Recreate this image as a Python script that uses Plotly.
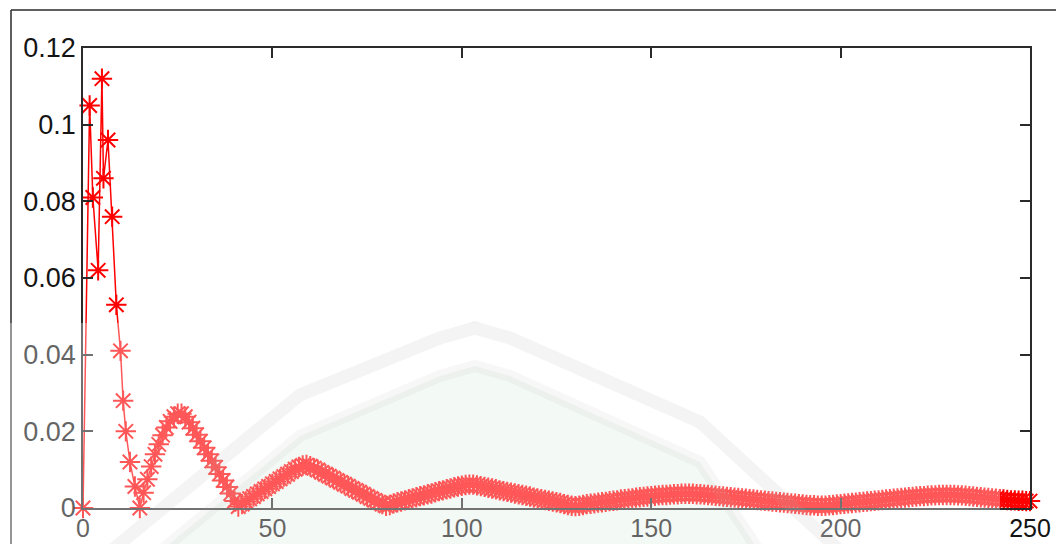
import plotly.graph_objects as go

# Leading samples (irregular spacing at the start of the response)
HEAD_X = [0, 1.75, 2.6, 4.0, 5.0, 5.4, 6.6, 7.7, 8.8, 9.9, 10.6, 11.3, 12.4, 13.7, 15.0]
HEAD_Y = [0.0, 0.105, 0.081, 0.062, 0.112, 0.086, 0.096, 0.076, 0.053, 0.041,
          0.028, 0.020, 0.012, 0.0056, 0.0]

# Remaining samples, one per unit from 16 to 250
TAIL_X = list(range(16, 251))
TAIL_Y = [
    0.0040, 0.0075, 0.0108, 0.0140, 0.0166, 0.0190, 0.0210, 0.0226, 0.0238, 0.0246,
    0.0246, 0.0238, 0.0224, 0.0208, 0.0191, 0.0174, 0.0157, 0.0140, 0.0123, 0.0106,
    0.0089, 0.0072, 0.0055, 0.0038, 0.0018, 0.0004, 0.0010, 0.0017, 0.0024, 0.0030,
    0.0037, 0.0043, 0.0050, 0.0056, 0.0063, 0.0069, 0.0076, 0.0082, 0.0088, 0.0095,
    0.0101, 0.0107, 0.0111, 0.0112, 0.0109, 0.0104, 0.0099, 0.0093, 0.0088, 0.0083,
    0.0078, 0.0072, 0.0067, 0.0062, 0.0057, 0.0051, 0.0046, 0.0041, 0.0036, 0.0030,
    0.0025, 0.0020, 0.0015, 0.0010, 0.0006, 0.0008, 0.0012, 0.0015, 0.0017, 0.0020,
    0.0023, 0.0025, 0.0028, 0.0031, 0.0033, 0.0036, 0.0038, 0.0041, 0.0044, 0.0046,
    0.0049, 0.0051, 0.0054, 0.0056, 0.0058, 0.0060, 0.0061, 0.0061, 0.0059, 0.0057,
    0.0055, 0.0053, 0.0051, 0.0049, 0.0046, 0.0044, 0.0042, 0.0040, 0.0038, 0.0036,
    0.0034, 0.0032, 0.0030, 0.0027, 0.0025, 0.0023, 0.0021, 0.0019, 0.0017, 0.0015,
    0.0013, 0.0010, 0.0008, 0.0006, 0.0005, 0.0006, 0.0008, 0.0010, 0.0011, 0.0012,
    0.0014, 0.0015, 0.0016, 0.0018, 0.0019, 0.0020, 0.0022, 0.0023, 0.0024, 0.0025,
    0.0027, 0.0028, 0.0029, 0.0030, 0.0031, 0.0032, 0.0033, 0.0034, 0.0034, 0.0035,
    0.0036, 0.0036, 0.0037, 0.0037, 0.0037, 0.0037, 0.0036, 0.0036, 0.0035, 0.0034,
    0.0033, 0.0032, 0.0031, 0.0030, 0.0029, 0.0028, 0.0027, 0.0026, 0.0025, 0.0024,
    0.0023, 0.0022, 0.0021, 0.0020, 0.0019, 0.0018, 0.0017, 0.0016, 0.0015, 0.0014,
    0.0013, 0.0012, 0.0011, 0.0010, 0.0009, 0.0008, 0.0007, 0.0007, 0.0006, 0.0006,
    0.0006, 0.0007, 0.0008, 0.0009, 0.0010, 0.0011, 0.0012, 0.0013, 0.0014, 0.0015,
    0.0016, 0.0017, 0.0018, 0.0019, 0.0020, 0.0021, 0.0022, 0.0023, 0.0024, 0.0025,
    0.0026, 0.0027, 0.0028, 0.0029, 0.0030, 0.0031, 0.0031, 0.0032, 0.0033, 0.0033,
    0.0034, 0.0034, 0.0034, 0.0034, 0.0034, 0.0033, 0.0033, 0.0032, 0.0031, 0.0030,
    0.0029, 0.0028, 0.0027, 0.0026, 0.0025, 0.0024, 0.0023, 0.0022, 0.0021, 0.0020,
    0.0020, 0.0019, 0.0019, 0.0018, 0.0018,
]

X_TICKS = [0, 50, 100, 150, 200, 250]
X_TICK_TEXT = ["0", "50", "100", "150", "200", "250"]
Y_TICKS = [0, 0.02, 0.04, 0.06, 0.08, 0.10, 0.12]
Y_TICK_TEXT = ["0", "0.02", "0.04", "0.06", "0.08", "0.1", "0.12"]

W, H = 1056, 544
L, R, T, B = 83, 26, 48, 36
PW, PH = W - L - R, H - T - B


def px(xp):
    return (xp - L) / PW


def py(yp):
    return (H - B - yp) / PH


def path(points):
    return "M " + " L ".join(f"{px(a):.4f},{py(b):.4f}" for a, b in points)


xs = HEAD_X + TAIL_X
ys = HEAD_Y + TAIL_Y

RED = "#ff0000"
AX = "#2a2a2a"
FONT_Y = dict(family="Liberation Sans, Arial, sans-serif", size=27, color="#141414")
FONT_X = dict(family="Liberation Sans, Arial, sans-serif", size=25, color="#141414")

fig = go.Figure()
fig.add_trace(go.Scatter(
    x=xs, y=ys, mode="lines+markers",
    line=dict(color=RED, width=1.5),
    marker=dict(symbol="asterisk-open", size=17, color=RED,
                line=dict(color=RED, width=2)),
    cliponaxis=False, showlegend=False,
))

axis_common = dict(
    showgrid=False, zeroline=False, showline=True, linecolor=AX, linewidth=1.5,
    mirror="ticks", ticks="inside", ticklen=10, tickwidth=1.5, tickcolor=AX,
    automargin=False,
)
fig.update_xaxes(range=[0, 250], tickvals=X_TICKS, ticktext=X_TICK_TEXT,
                 tickfont=FONT_X, ticklabelstandoff=-3, **axis_common)
fig.update_yaxes(range=[0, 0.12], tickvals=Y_TICKS, ticktext=Y_TICK_TEXT,
                 tickfont=FONT_Y, **axis_common)

# Emblem behind the lower half of the axes
outer_arc = [(100, 560), (300, 395), (440, 338), (475, 328), (510, 338), (700, 422), (850, 560)]
inner_arc = [(150, 560), (300, 436), (440, 376), (475, 366), (510, 376), (700, 462), (765, 560)]
shapes = [
    dict(type="path", xref="paper", yref="paper", layer="below",
         path=path(inner_arc) + " Z", fillcolor="#edf6f0", line=dict(width=0)),
    dict(type="path", xref="paper", yref="paper", layer="above",
         path=path(outer_arc), line=dict(color="rgba(120,120,120,0.12)", width=13)),
    dict(type="path", xref="paper", yref="paper", layer="above",
         path=path(inner_arc), line=dict(color="rgba(120,120,120,0.09)", width=12)),
    # figure frame
    dict(type="line", xref="paper", yref="paper", x0=px(11), y0=py(10), x1=px(1060), y1=py(10),
         line=dict(color=AX, width=1.5)),
    dict(type="line", xref="paper", yref="paper", x0=px(11), y0=py(10), x1=px(11), y1=py(548),
         line=dict(color=AX, width=1.5)),
    # pale veil over the lower part
    dict(type="rect", xref="paper", yref="paper", layer="above",
         x0=px(-5), x1=px(1000), y0=py(323), y1=py(550),
         fillcolor="rgba(255,255,255,0.34)", line=dict(width=0)),
]

fig.update_layout(
    width=W, height=H,
    margin=dict(l=L, r=R, t=T, b=B, autoexpand=False),
    paper_bgcolor="white", plot_bgcolor="rgba(0,0,0,0)",
    shapes=shapes,
)

fig.write_html("out.html")
